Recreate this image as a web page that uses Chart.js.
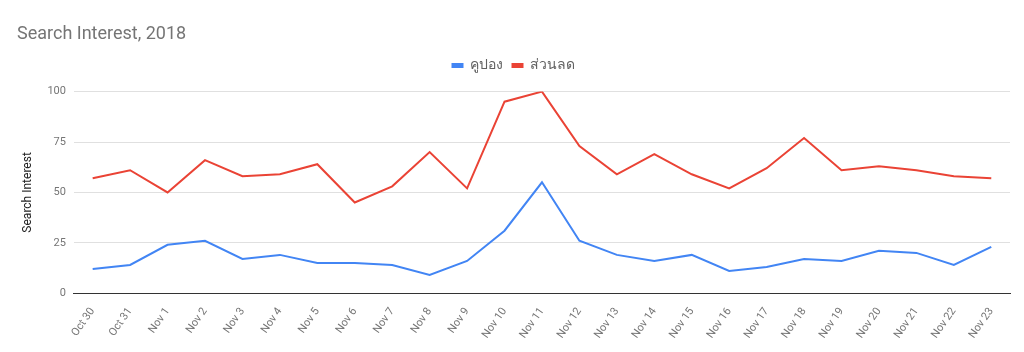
<!DOCTYPE html>
<html>
<head>
<meta charset="utf-8">
<script src="https://cdn.jsdelivr.net/npm/chart.js@4"></script>
<style>
  html, body { margin: 0; padding: 0; background: #fff; }
  #wrap { width: 1024px; height: 352px; }
</style>
</head>
<body>
<div id="wrap"><canvas id="searchChart"></canvas></div>
<script>
const days = [
  'Oct 30', 'Oct 31', 'Nov 1', 'Nov 2', 'Nov 3', 'Nov 4', 'Nov 5', 'Nov 6',
  'Nov 7', 'Nov 8', 'Nov 9', 'Nov 10', 'Nov 11', 'Nov 12', 'Nov 13', 'Nov 14',
  'Nov 15', 'Nov 16', 'Nov 17', 'Nov 18', 'Nov 19', 'Nov 20', 'Nov 21', 'Nov 22', 'Nov 23'
];
const coupon = [12, 14, 24, 26, 17, 19, 15, 15, 14, 9, 16, 31, 55, 26, 19, 16, 19, 11, 13, 17, 16, 21, 20, 14, 23];
const discount = [57, 61, 50, 66, 58, 59, 64, 45, 53, 70, 52, 95, 100, 73, 59, 69, 59, 52, 62, 77, 61, 63, 61, 58, 57];
const yTicks = [0, 25, 50, 75, 100];

// extra space under the legend
const legendGap = {
  id: 'legendGap',
  beforeInit(chart) {
    const fit = chart.legend.fit;
    chart.legend.fit = function() {
      fit.bind(chart.legend)();
      this.height += 9;
    };
  }
};

const ctx = document.getElementById('searchChart').getContext('2d');
const searchChart = new Chart(ctx, {
  type: 'line',
  data: {
    labels: days,
    datasets: [
      {
        label: 'คูปอง',
        data: coupon,
        borderColor: '#4285F4',
        backgroundColor: '#4285F4',
        borderWidth: 2,
        pointRadius: 0,
        tension: 0
      },
      {
        label: 'ส่วนลด',
        data: discount,
        borderColor: '#EA4335',
        backgroundColor: '#EA4335',
        borderWidth: 2,
        pointRadius: 0,
        tension: 0
      }
    ]
  },
  options: {
    responsive: true,
    maintainAspectRatio: false,
    animation: false,
    layout: { padding: { left: 17, right: 14, top: 18, bottom: 7 } },
    plugins: {
      title: {
        display: true,
        text: 'Search Interest, 2018',
        align: 'start',
        color: '#757575',
        font: { family: 'Roboto', size: 18, weight: 'normal' },
        padding: { top: 6, bottom: 3 }
      },
      legend: {
        display: true,
        labels: {
          color: '#616161',
          font: { family: 'Roboto, "Noto Sans"', size: 14 },
          boxWidth: 10,
          boxHeight: 3,
          padding: 10
        }
      },
      tooltip: { enabled: false }
    },
    scales: {
      x: {
        offset: true,
        grid: { display: false },
        border: { display: true, color: '#333333', width: 1 },
        ticks: {
          color: '#757575',
          font: { family: 'Roboto', size: 11 },
          autoSkip: false,
          minRotation: 55,
          maxRotation: 55,
          padding: 4
        }
      },
      y: {
        min: 0,
        max: 100,
        afterBuildTicks: function(axis) {
          axis.ticks = yTicks.map(v => ({ value: v }));
        },
        grid: { color: '#e0e0e0', drawTicks: false },
        border: { display: false },
        ticks: {
          color: '#757575',
          font: { family: 'Roboto', size: 11 },
          padding: 8
        },
        title: {
          display: true,
          text: 'Search Interest',
          color: '#222222',
          font: { family: 'Roboto', size: 12 }
        }
      }
    }
  },
  plugins: [legendGap]
});
</script>
</body>
</html>
